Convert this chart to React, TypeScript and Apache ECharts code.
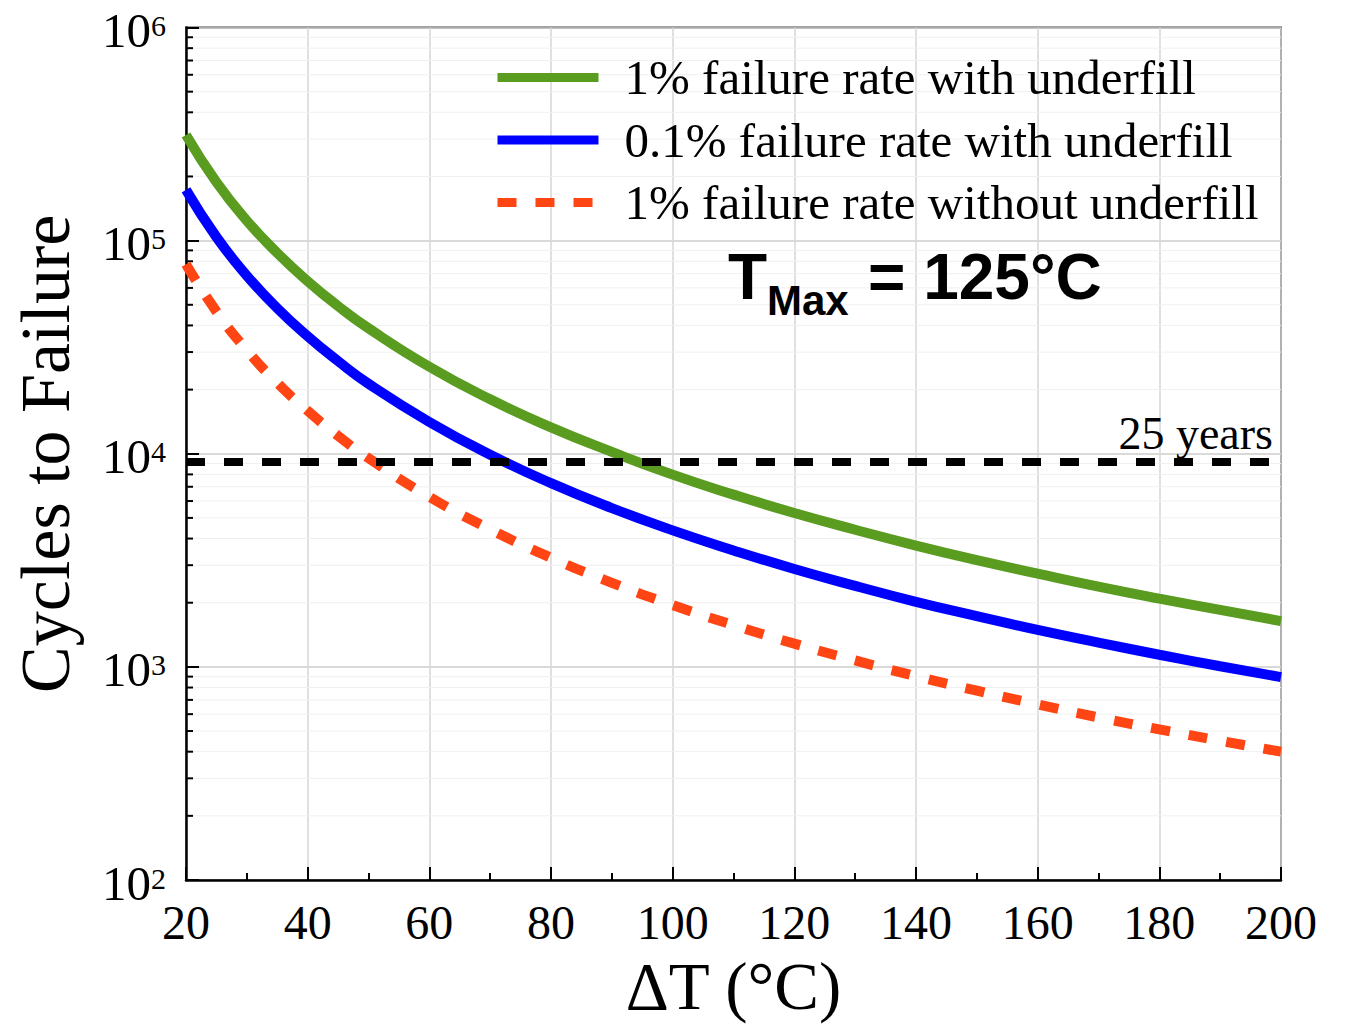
import React, { useEffect, useRef } from "react";
import * as echarts from "echarts";

// ---- data ----
const deltaT = [20, 25, 30, 35, 40, 45, 50, 60, 70, 80, 90, 100, 110, 120, 130, 140, 150, 160, 170, 180, 190, 200];
const green1WithUnderfill = [313000, 188000, 124000, 87500, 64500, 49300, 38800, 25600, 18000, 13300, 10200, 7980, 6430, 5270, 4400, 3710, 3170, 2740, 2380, 2090, 1850, 1640];
const blue01WithUnderfill = [173000, 104000, 68500, 48200, 35600, 27200, 21300, 14100, 9890, 7280, 5560, 4370, 3520, 2880, 2400, 2020, 1730, 1490, 1300, 1140, 1007, 895];
const red1WithoutUnderfill = [77500, 46500, 30600, 21500, 15900, 12130, 9530, 6280, 4420, 3250, 2480, 1950, 1570, 1285, 1072, 904, 773, 667, 579, 509, 450, 400];
const seriesNames = [
  "1% failure rate with underfill",
  "0.1% failure rate with underfill",
  "1% failure rate without underfill",
];
const years25Cycles = 9125;
const years25Label = "25 years";
const decadeStarts = [100, 1000, 10000, 100000];
const minorMultipliers = [2, 3, 4, 5, 6, 7, 8, 9];
const xTickInterval = 20;

const SERIF = '"Liberation Serif", "Times New Roman", serif';
const SANS = '"Liberation Sans", Arial, sans-serif';

function buildOption() {
  const minorY: number[][] = [];
  decadeStarts.forEach((d) =>
    minorMultipliers.forEach((m) => minorY.push([deltaT[0], d * m]))
  );
  const zip = (ys: number[]) => deltaT.map((x, i) => [x, ys[i]]);
  const lineCommon = {
    type: "line" as const,
    showSymbol: false,
    symbol: "none",
    smooth: true,
    z: 4,
  };
  return {
    animation: false,
    backgroundColor: "#fff",
    grid: {
      left: 186,
      right: 66,
      top: 25,
      bottom: 142,
      show: true,
      borderColor: "#444",
      borderWidth: 2,
      backgroundColor: "transparent",
    },
    legend: {
      orient: "vertical",
      left: 493,
      top: 53,
      padding: 0,
      itemWidth: 101,
      itemHeight: 4,
      itemGap: 13.5,
      data: seriesNames,
      lineStyle: { width: 9 },
      itemStyle: { color: "transparent", borderWidth: 0, opacity: 0 },
      textStyle: {
        fontFamily: SERIF,
        fontSize: 49,
        lineHeight: 48,
        color: "#000",
        padding: [0, 0, 0, 21],
      },
    },
    xAxis: {
      type: "value",
      min: 20,
      max: 200,
      interval: xTickInterval,
      name: "ΔT (°C)",
      nameLocation: "middle",
      nameGap: 72,
      nameTextStyle: { fontFamily: SERIF, fontSize: 67, color: "#000" },
      axisLine: { show: true, onZero: false, lineStyle: { color: "#000", width: 2.5 } },
      axisTick: { show: true, inside: true, length: 13, lineStyle: { color: "#000", width: 2 } },
      minorTick: { show: true, splitNumber: 2, length: 7, lineStyle: { color: "#000", width: 2 } },
      axisLabel: { fontFamily: SERIF, fontSize: 48, color: "#000", margin: 18 },
      splitLine: { show: true, lineStyle: { color: "#d6d6d6", width: 1.5 } },
    },
    yAxis: {
      type: "log",
      logBase: 10,
      min: 100,
      max: 1000000,
      name: "Cycles to Failure",
      nameLocation: "middle",
      nameGap: 106,
      nameRotate: 90,
      nameTextStyle: { fontFamily: SERIF, fontSize: 70, color: "#000" },
      axisLine: { show: true, lineStyle: { color: "#000", width: 2.5 } },
      axisTick: { show: true, inside: true, length: 13, lineStyle: { color: "#000", width: 2 } },
      axisLabel: {
        margin: 20,
        formatter: (v: number) => `{b|10}{s|${Math.round(Math.log10(v))}}`,
        rich: {
          b: { fontFamily: SERIF, fontSize: 49, lineHeight: 40, padding: [6, 0, 0, 0], color: "#000" },
          s: { fontFamily: SERIF, fontSize: 30, lineHeight: 20, padding: [3, 0, 0, 0], color: "#000", verticalAlign: "top" },
        },
      },
      splitLine: { show: true, lineStyle: { color: "#cccccc", width: 1.5 } },
    },
    series: [
      {
        type: "custom",
        name: "minor",
        silent: true,
        z: 1,
        data: minorY,
        renderItem: (params: any, api: any) => {
          const p = api.coord([api.value(0), api.value(1)]);
          const cs = params.coordSys;
          return {
            type: "group",
            children: [
              {
                type: "line",
                shape: { x1: cs.x, y1: p[1], x2: cs.x + cs.width, y2: p[1] },
                style: { stroke: "#f0f0f0", lineWidth: 1 },
              },
              {
                type: "line",
                shape: { x1: cs.x, y1: p[1], x2: cs.x + 7, y2: p[1] },
                style: { stroke: "#000", lineWidth: 2 },
              },
            ],
          };
        },
      },
      {
        type: "line",
        name: "years",
        data: [],
        z: 3,
        markLine: {
          silent: true,
          symbol: "none",
          data: [{ yAxis: years25Cycles }],
          lineStyle: { color: "#000", width: 8, type: [19, 19] },
          label: {
            show: true,
            position: "insideEndTop",
            formatter: years25Label,
            distance: [8, 6],
            fontFamily: SERIF,
            fontSize: 46,
            color: "#000",
          },
        },
      },
      {
        ...lineCommon,
        name: seriesNames[0],
        data: zip(green1WithUnderfill),
        lineStyle: { color: "#599c1f", width: 10 },
        itemStyle: { color: "#599c1f" },
      },
      {
        ...lineCommon,
        name: seriesNames[1],
        data: zip(blue01WithUnderfill),
        lineStyle: { color: "#0000ff", width: 10 },
        itemStyle: { color: "#0000ff" },
      },
      {
        ...lineCommon,
        name: seriesNames[2],
        data: zip(red1WithoutUnderfill),
        lineStyle: { color: "#ff4513", width: 10, type: [19, 19] },
        itemStyle: { color: "#ff4513" },
      },
    ],
    graphic: [
      {
        type: "text",
        z: 100,
        x: 728,
        y: 277,
        style: { text: "T", font: `bold 64px ${SANS}`, fill: "#000", verticalAlign: "middle", align: "left" },
      },
      {
        type: "text",
        z: 100,
        x: 767,
        y: 300,
        style: { text: "Max", font: `bold 42px ${SANS}`, fill: "#000", verticalAlign: "middle", align: "left" },
      },
      {
        type: "text",
        z: 100,
        x: 868,
        y: 277,
        style: { text: "= 125°C", font: `bold 64px ${SANS}`, fill: "#000", verticalAlign: "middle", align: "left" },
      },
    ],
  };
}

export default function App() {
  const ref = useRef<HTMLDivElement>(null);
  useEffect(() => {
    if (!ref.current) return;
    const chart = echarts.init(ref.current, null, { renderer: "svg" });
    chart.setOption(buildOption() as any);
    return () => chart.dispose();
  }, []);
  return (
    <div
      ref={ref}
      style={{ position: "fixed", left: 0, top: 0, width: 1347, height: 1024, background: "#fff" }}
    />
  );
}
